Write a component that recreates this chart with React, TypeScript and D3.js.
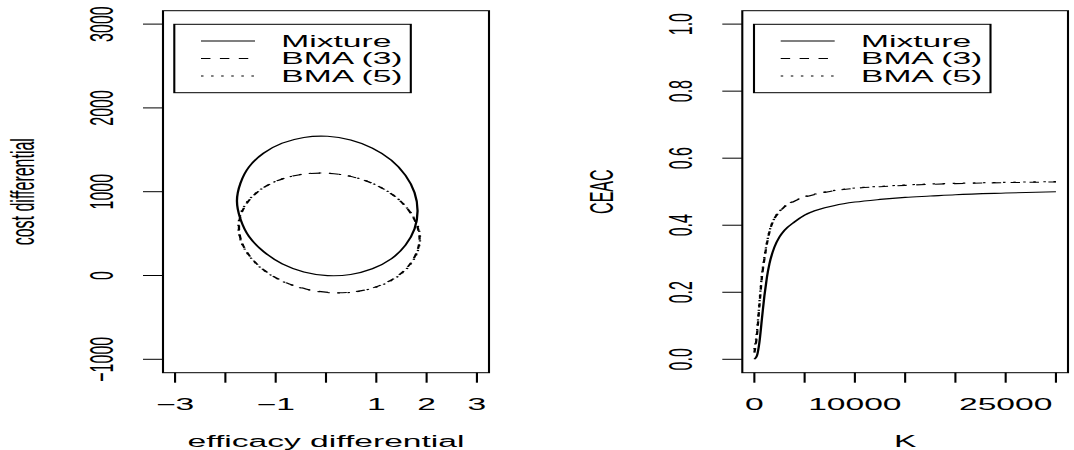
import React, { useEffect, useRef } from 'react';
import * as d3 from 'd3';

// left panel: 95% regions (efficacy differential, cost differential)
const mixEff = [1.82, 1.76, 1.58, 1.30, 0.92, 0.49, 0.03, -0.44, -0.87, -1.24, -1.53, -1.70, -1.77, -1.70, -1.53, -1.24, -0.87, -0.44, 0.03, 0.49, 0.92, 1.30, 1.58, 1.76];
const mixCost = [770, 557, 363, 200, 80, 12, -1, 43, 140, 285, 465, 672, 889, 1102, 1296, 1460, 1579, 1648, 1661, 1617, 1520, 1375, 1194, 988];
const bma3Eff = [1.86, 1.79, 1.61, 1.33, 0.96, 0.53, 0.06, -0.40, -0.84, -1.21, -1.49, -1.67, -1.73, -1.67, -1.49, -1.21, -0.84, -0.40, 0.06, 0.53, 0.96, 1.33, 1.61, 1.79];
const bma3Cost = [439, 257, 93, -43, -142, -196, -202, -161, -73, 55, 213, 390, 577, 760, 924, 1060, 1158, 1213, 1219, 1177, 1089, 962, 804, 626];
const bma5Eff = [1.87, 1.80, 1.62, 1.34, 0.97, 0.54, 0.06, -0.41, -0.85, -1.22, -1.50, -1.68, -1.74, -1.68, -1.50, -1.21, -0.84, -0.40, 0.06, 0.53, 0.96, 1.33, 1.61, 1.80];
const bma5Cost = [441, 255, 90, -46, -145, -199, -205, -163, -74, 55, 214, 392, 580, 762, 925, 1061, 1159, 1214, 1220, 1178, 1090, 963, 805, 628];

// right panel: CEAC against willingness to pay K
const kValues = [0, 250, 500, 750, 1000, 1250, 1500, 2000, 2500, 3000, 4000, 5000, 6000, 7000, 8000, 10000, 12500, 15000, 17500, 20000, 25000, 30000];
const ceacMix = [0.0, 0.01, 0.05, 0.12, 0.19, 0.245, 0.285, 0.335, 0.365, 0.385, 0.41, 0.43, 0.443, 0.452, 0.459, 0.469, 0.477, 0.483, 0.487, 0.491, 0.496, 0.5];
const ceacBma3 = [0.02, 0.07, 0.16, 0.245, 0.30, 0.345, 0.38, 0.42, 0.44, 0.455, 0.472, 0.484, 0.492, 0.498, 0.503, 0.51, 0.515, 0.519, 0.522, 0.524, 0.527, 0.529];
const ceacBma5 = [0.03, 0.08, 0.17, 0.25, 0.305, 0.348, 0.382, 0.421, 0.441, 0.456, 0.473, 0.485, 0.493, 0.499, 0.504, 0.511, 0.516, 0.52, 0.523, 0.525, 0.528, 0.53];

const effTicks = [-3, -2, -1, 0, 1, 2, 3];
const effLabels = ['−3', '', '−1', '', '1', '2', '3'];
const costTicks = [-1000, 0, 1000, 2000, 3000];
const costLabels = ['−1000', '0', '1000', '2000', '3000'];
const kTicks = [0, 5000, 10000, 15000, 20000, 25000, 30000];
const kLabels = ['0', '', '10000', '', '', '25000', ''];
const ceacTicks = [0, 0.2, 0.4, 0.6, 0.8, 1.0];
const ceacLabels = ['0.0', '0.2', '0.4', '0.6', '0.8', '1.0'];

const seriesNames = ['Mixture', 'BMA (3)', 'BMA (5)'];
const dashes = [null, '4.5,4.5', '1.2,3.6'];

// the picture is stretched sideways, so draw narrow and let the viewBox widen it
const W = 1074;
const H = 450;
const S = 2.1;
const ux = (x: number) => x / S;
const TOP = 10.7;
const BOTTOM = 372.7;
const FONT = '"Liberation Sans", Arial, Helvetica, sans-serif';
const FS = 16;

const rExpand = (a: number, b: number): [number, number] => [a - (b - a) * 0.04, b + (b - a) * 0.04];

function drawPanel(svg: any, p: any) {
  const g = svg.append('g');
  const x = d3.scaleLinear().domain(rExpand(p.xLim[0], p.xLim[1])).range([ux(p.left), ux(p.right)]);
  const y = d3.scaleLinear().domain(rExpand(p.yLim[0], p.yLim[1])).range([BOTTOM, TOP]);

  g.append('rect')
    .attr('x', ux(p.left)).attr('y', TOP)
    .attr('width', ux(p.right) - ux(p.left)).attr('height', BOTTOM - TOP)
    .attr('fill', 'none').attr('stroke', '#000').attr('stroke-width', 1);

  // y axis
  g.selectAll('.ytick').data(p.yTicks).enter().append('line')
    .attr('x1', ux(p.left - 20)).attr('x2', ux(p.left))
    .attr('y1', (d: number) => y(d)).attr('y2', (d: number) => y(d))
    .attr('stroke', '#000').attr('stroke-width', 1);
  g.selectAll('.ylab').data(p.yTicks).enter().append('text')
    .attr('transform', (d: number) => `translate(${ux(p.left - 50)},${y(d)}) rotate(-90)`)
    .attr('text-anchor', 'middle')
    .style('font-family', FONT).style('font-size', FS + 'px')
    .text((d: number, i: number) => p.yLabels[i]);
  g.append('text')
    .attr('transform', `translate(${ux(p.left - 129)},${(TOP + BOTTOM) / 2}) rotate(-90)`)
    .attr('text-anchor', 'middle')
    .style('font-family', FONT).style('font-size', FS + 'px')
    .text(p.yTitle);

  // x axis
  g.selectAll('.xtick').data(p.xTicks).enter().append('line')
    .attr('x1', (d: number) => x(d)).attr('x2', (d: number) => x(d))
    .attr('y1', BOTTOM).attr('y2', BOTTOM + 10)
    .attr('stroke', '#000').attr('stroke-width', 1);
  g.selectAll('.xlab').data(p.xTicks).enter().append('text')
    .attr('x', (d: number) => x(d)).attr('y', 410)
    .attr('text-anchor', 'middle')
    .style('font-family', FONT).style('font-size', FS + 'px')
    .text((d: number, i: number) => p.xLabels[i]);
  g.append('text')
    .attr('x', (ux(p.left) + ux(p.right)) / 2).attr('y', 447)
    .attr('text-anchor', 'middle')
    .style('font-family', FONT).style('font-size', FS + 'px')
    .text(p.xTitle);

  // legend
  const lx = p.legendX;
  g.append('rect')
    .attr('x', ux(lx)).attr('y', 24.3)
    .attr('width', ux(236.5)).attr('height', 68.4)
    .attr('fill', 'none').attr('stroke', '#000').attr('stroke-width', 1);
  const rows = [41, 58.5, 76];
  seriesNames.forEach((name, i) => {
    g.append('line')
      .attr('x1', ux(lx + 26.7)).attr('x2', ux(lx + 80.7))
      .attr('y1', rows[i]).attr('y2', rows[i])
      .attr('stroke', '#000').attr('stroke-width', 1.1)
      .attr('stroke-dasharray', dashes[i]);
    g.append('text')
      .attr('x', ux(lx + 107)).attr('y', rows[i] + 5.8)
      .style('font-family', FONT).style('font-size', FS + 'px')
      .text(name);
  });

  return { g, x, y };
}

export default function App() {
  const ref = useRef<SVGSVGElement>(null);

  useEffect(() => {
    const svg = d3.select(ref.current);
    svg.selectAll('*').remove();

    const left = drawPanel(svg, {
      left: 163, right: 489,
      xLim: [-3, 3], yLim: [-1000, 3000],
      xTicks: effTicks, xLabels: effLabels,
      yTicks: costTicks, yLabels: costLabels,
      xTitle: 'efficacy differential', yTitle: 'cost differential',
      legendX: 174.3,
    });

    const ellipse = (eff: number[], cost: number[]) =>
      d3.line<number>()
        .x(i => left.x(eff[i]))
        .y(i => left.y(cost[i]))
        .curve(d3.curveCatmullRomClosed)(d3.range(eff.length));

    [[mixEff, mixCost], [bma3Eff, bma3Cost], [bma5Eff, bma5Cost]].forEach(([e, c], i) => {
      left.g.append('path')
        .attr('d', ellipse(e, c))
        .attr('fill', 'none').attr('stroke', '#000').attr('stroke-width', 1.1)
        .attr('stroke-dasharray', dashes[i]);
    });

    const right = drawPanel(svg, {
      left: 742.3, right: 1068,
      xLim: [0, 30000], yLim: [0, 1],
      xTicks: kTicks, xLabels: kLabels,
      yTicks: ceacTicks, yLabels: ceacLabels,
      xTitle: 'K', yTitle: 'CEAC',
      legendX: 754,
    });

    [ceacMix, ceacBma3, ceacBma5].forEach((vals, i) => {
      const line = d3.line<number>()
        .x(j => right.x(kValues[j]))
        .y(j => right.y(vals[j]))
        .curve(d3.curveMonotoneX);
      right.g.append('path')
        .attr('d', line(d3.range(kValues.length)))
        .attr('fill', 'none').attr('stroke', '#000').attr('stroke-width', 1.1)
        .attr('stroke-dasharray', dashes[i]);
    });
  }, []);

  return (
    <svg
      ref={ref}
      width={W}
      height={H}
      viewBox={`0 0 ${W / S} ${H}`}
      preserveAspectRatio="none"
      style={{ position: 'absolute', left: 0, top: 0, background: '#fff', display: 'block' }}
    />
  );
}
